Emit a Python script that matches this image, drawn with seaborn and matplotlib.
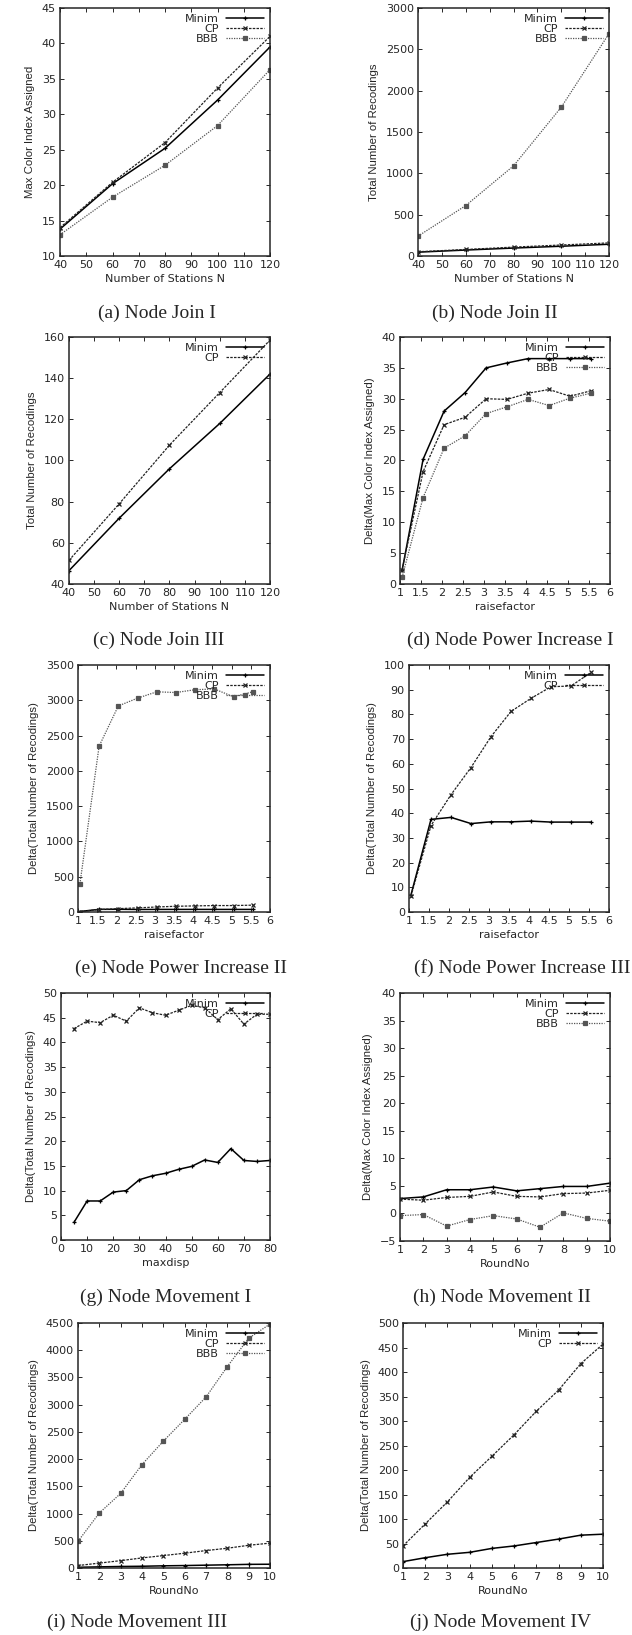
import matplotlib
matplotlib.use('Agg')
import matplotlib.pyplot as plt
import seaborn as sns

# ---- data ----
stations = [40, 60, 80, 100, 120]
join_color_minim = [13.8, 20.2, 25.2, 32.0, 39.5]
join_color_cp = [14.0, 20.4, 26.0, 33.7, 41.0]
join_color_bbb = [13.0, 18.3, 22.8, 28.4, 36.3]

join_rec_minim = [46.5, 72, 96, 118, 142]
join_rec_cp = [51.5, 79, 107.5, 133, 158.5]
join_rec_bbb = [240, 610, 1090, 1800, 2690]

raisefactor = [1.05, 1.55, 2.05, 2.55, 3.05, 3.55, 4.05, 4.55, 5.05, 5.55]
power_color_minim = [2.2, 20.2, 28.0, 31.0, 35.0, 35.8, 36.5, 36.5, 36.5, 36.5]
power_color_cp = [2.3, 18.2, 25.8, 27.0, 30.0, 29.9, 30.9, 31.5, 30.4, 31.3]
power_color_bbb = [1.1, 14.0, 22.0, 24.0, 27.6, 28.7, 29.9, 28.9, 30.1, 30.9]

power_rec_minim = [7.0, 37.5, 38.3, 35.8, 36.5, 36.5, 36.8, 36.4, 36.4, 36.4]
power_rec_cp = [6.5, 35.0, 47.5, 58.5, 71.0, 81.2, 86.5, 91.2, 91.5, 97.0]
power_rec_bbb = [400, 2350, 2920, 3030, 3120, 3110, 3150, 3160, 3050, 3120]

maxdisp = [5, 10, 15, 20, 25, 30, 35, 40, 45, 50, 55, 60, 65, 70, 75, 80]
move_disp_minim = [3.6, 7.9, 7.9, 9.7, 10.0, 12.2, 13.0, 13.5, 14.3, 14.9,
                   16.2, 15.7, 18.5, 16.1, 15.9, 16.1]
move_disp_cp = [42.8, 44.3, 44.0, 45.5, 44.3, 47.0, 46.0, 45.5, 46.5, 47.5,
                47.0, 44.6, 46.8, 43.7, 45.7, 45.7]

rounds = [1, 2, 3, 4, 5, 6, 7, 8, 9, 10]
move_color_minim = [2.7, 3.0, 4.3, 4.3, 4.8, 4.1, 4.5, 4.9, 4.9, 5.5]
move_color_cp = [2.6, 2.4, 2.9, 3.1, 3.9, 3.1, 3.0, 3.6, 3.7, 4.2]
move_color_bbb = [-0.4, -0.2, -2.3, -1.1, -0.4, -1.0, -2.5, 0.1, -0.9, -1.4]

move_rec_minim = [13, 21, 28, 32, 40, 45, 52, 59, 67, 69]
move_rec_cp = [45, 90, 135, 185, 228, 272, 320, 363, 417, 457]
move_rec_bbb = [490, 1010, 1370, 1900, 2330, 2730, 3140, 3700, 4220, 4480]

# ---- style ----
sns.set_style('ticks')
plt.rcParams['font.family'] = ['DejaVu Sans']
plt.rcParams['xtick.direction'] = 'in'
plt.rcParams['ytick.direction'] = 'in'
plt.rcParams['xtick.top'] = True
plt.rcParams['ytick.right'] = True

W, H = 632, 1635
fig = plt.figure(figsize=(W / 100, H / 100), dpi=100)

STYLES = {
    'Minim': dict(color='black', linestyle='-', marker='+', markersize=3.5, linewidth=1.1),
    'CP': dict(color='#222222', linestyle=(0, (2, 1)), marker='x', markersize=3, linewidth=0.9),
    'BBB': dict(color='#555555', linestyle=(0, (1, 1)), marker='s', markersize=2.5, linewidth=0.9),
}


def panel(box, x, series, xlim, xticks, ylim, yticks, xlabel, ylabel, caption, cap_xy,
          xticklabels=None):
    l, r, t, b = box
    ax = fig.add_axes([l / W, 1 - b / H, (r - l) / W, (b - t) / H])
    for name, y in series:
        st = STYLES[name]
        sns.lineplot(x=x, y=y, ax=ax, label=name, markeredgewidth=0.9,
                     markerfacecolor=st['color'], markeredgecolor=st['color'], **st)
    ax.set_xlim(*xlim)
    ax.set_ylim(*ylim)
    ax.set_xticks(xticks)
    if xticklabels is not None:
        ax.set_xticklabels(xticklabels)
    ax.set_yticks(yticks)
    ax.tick_params(labelsize=8, length=3, width=0.7, pad=3)
    for s in ax.spines.values():
        s.set_linewidth(1.1)
        s.set_visible(True)
    ax.set_xlabel(xlabel, fontsize=8, labelpad=3)
    ax.set_ylabel(ylabel, fontsize=8.2, labelpad=5,
                  family=['Liberation Sans Narrow', 'Liberation Sans', 'DejaVu Sans'])
    ax.legend(loc='upper right', frameon=False, markerfirst=False, fontsize=8,
              handlelength=3.5, labelspacing=0.0, borderaxespad=0.3,
              handletextpad=0.6, borderpad=0.2)
    fig.text(cap_xy[0] / W, 1 - cap_xy[1] / H, caption, ha='center', va='center',
             fontsize=14, family=['Liberation Serif', 'DejaVu Serif'])
    return ax


x_st = [40, 50, 60, 70, 80, 90, 100, 110, 120]
x_rf = [1, 1.5, 2, 2.5, 3, 3.5, 4, 4.5, 5, 5.5, 6]
x_rf_lab = ['1', '1.5', '2', '2.5', '3', '3.5', '4', '4.5', '5', '5.5', '6']

panel((60, 270, 8, 256), stations,
      [('Minim', join_color_minim), ('CP', join_color_cp), ('BBB', join_color_bbb)],
      (40, 120), x_st, (10, 45), range(10, 46, 5),
      'Number of Stations N', 'Max Color Index Assigned', '(a) Node Join I', (157, 313))

panel((418, 609, 8, 256), stations,
      [('Minim', join_rec_minim), ('CP', join_rec_cp), ('BBB', join_rec_bbb)],
      (40, 120), x_st, (0, 3000), range(0, 3001, 500),
      'Number of Stations N', 'Total Number of Recodings', '(b) Node Join II', (495, 313))

panel((69, 270, 337, 584), stations,
      [('Minim', join_rec_minim), ('CP', join_rec_cp)],
      (40, 120), x_st, (40, 160), range(40, 161, 20),
      'Number of Stations N', 'Total Number of Recodings', '(c) Node Join III', (159, 640))

panel((400, 610, 337, 584), raisefactor,
      [('Minim', power_color_minim), ('CP', power_color_cp), ('BBB', power_color_bbb)],
      (1, 6), x_rf, (0, 40), range(0, 41, 5),
      'raisefactor', 'Delta(Max Color Index Assigned)', '(d) Node Power Increase I', (510, 640),
      xticklabels=x_rf_lab)

panel((78, 270, 665, 912), raisefactor,
      [('Minim', power_rec_minim), ('CP', power_rec_cp), ('BBB', power_rec_bbb)],
      (1, 6), x_rf, (0, 3500), range(0, 3501, 500),
      'raisefactor', 'Delta(Total Number of Recodings)', '(e) Node Power Increase II', (181, 968),
      xticklabels=x_rf_lab)

panel((409, 609, 665, 912), raisefactor,
      [('Minim', power_rec_minim), ('CP', power_rec_cp)],
      (1, 6), x_rf, (0, 100), range(0, 101, 10),
      'raisefactor', 'Delta(Total Number of Recodings)', '(f) Node Power Increase III', (522, 968),
      xticklabels=x_rf_lab)

panel((61, 270, 993, 1240), maxdisp,
      [('Minim', move_disp_minim), ('CP', move_disp_cp)],
      (0, 80), range(0, 81, 10), (0, 50), range(0, 51, 5),
      'maxdisp', 'Delta(Total Number of Recodings)', '(g) Node Movement I', (166, 1297))

panel((400, 610, 993, 1241), rounds,
      [('Minim', move_color_minim), ('CP', move_color_cp), ('BBB', move_color_bbb)],
      (1, 10), rounds, (-5, 40), range(-5, 41, 5),
      'RoundNo', 'Delta(Max Color Index Assigned)', '(h) Node Movement II', (502, 1297))

panel((78, 270, 1323, 1568), rounds,
      [('Minim', move_rec_minim), ('CP', move_rec_cp), ('BBB', move_rec_bbb)],
      (1, 10), rounds, (0, 4500), range(0, 4501, 500),
      'RoundNo', 'Delta(Total Number of Recodings)', '(i) Node Movement III', (137, 1622))

panel((403, 603, 1323, 1568), rounds,
      [('Minim', move_rec_minim), ('CP', move_rec_cp)],
      (1, 10), rounds, (0, 500), range(0, 501, 50),
      'RoundNo', 'Delta(Total Number of Recodings)', '(j) Node Movement IV', (501, 1622))

fig.savefig('out.png', dpi=100)
